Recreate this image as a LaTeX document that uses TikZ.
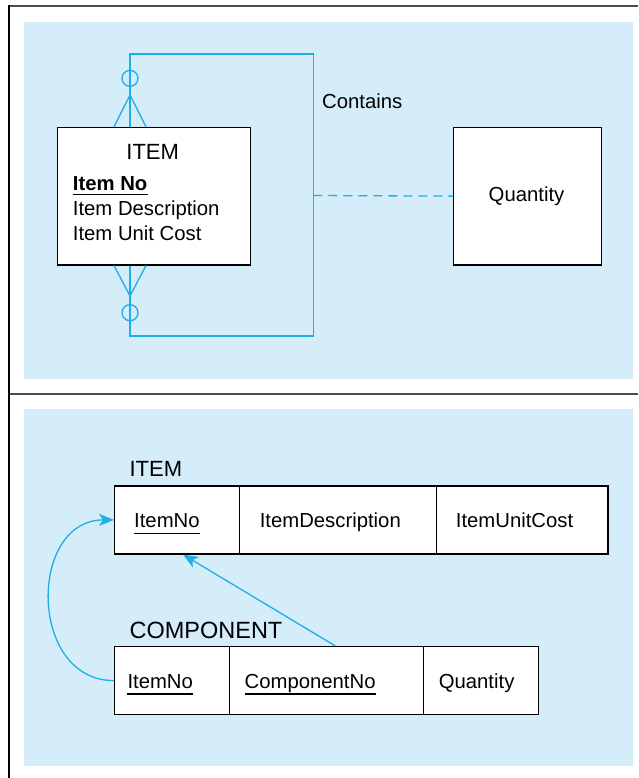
\documentclass[tikz,border=0pt]{standalone}
\usepackage{fontspec}
\setmainfont{Liberation Sans}
\usetikzlibrary{arrows.meta,calc}
\definecolor{panelblue}{HTML}{D5ECF9}
\definecolor{linkcyan}{HTML}{1CAFE9}
\definecolor{framegray}{HTML}{4D4D4D}
\begin{document}
\begin{tikzpicture}[x=1pt,y=-1pt,
  entity/.style={draw=black, line width=1.2pt, fill=white, inner sep=0pt, anchor=north west},
  cell/.style={draw=black, line width=1.2pt, fill=white, inner sep=0pt, anchor=north west, minimum height=68pt},
  txt/.style={inner sep=0pt, anchor=base west, font=\fontsize{20.3}{24}\selectfont},
  ctxt/.style={inner sep=0pt, anchor=base, font=\fontsize{20.3}{24}\selectfont},
  link/.style={draw=linkcyan, line width=1.3pt},
  tipped/.style={-{Stealth[length=15pt,width=12pt,inset=4pt]}},
  uline/.style={draw=black, line width=1.1pt},
  framel/.style={line width=2pt}
]
\useasboundingbox (0,0) rectangle (638,778);
% panels
\fill[panelblue] (24,22) rectangle (632.7,378.7);
\fill[panelblue] (24,409.3) rectangle (632.7,765.7);
% frame
\draw[framel, framegray] (9,6.5) -- (638,6.5);
\draw[framel, framegray] (9,393.5) -- (638,393.5);
\draw[framel, black] (9,5.5) -- (9,778);

% ---------- top panel ----------
\node[entity, minimum width=193pt, minimum height=137.5pt] (itement) at (57,126.8) {};
\node[entity, minimum width=148pt, minimum height=137.5pt] (qtyent) at (453,126.8) {};

\node[ctxt, font=\fontsize{22}{26}\selectfont] (itemtitle) at (152.7,160) {ITEM};
\node[txt, font=\fontsize{20.3}{24}\selectfont\bfseries] (ino) at (72.7,190) {Item No};
\draw[uline] ([yshift=-4.5pt]ino.base west) -- ([yshift=-4.5pt]ino.base east);
\node[txt] (idesc) at (72.7,215) {Item Description};
\node[txt] (icost) at (72.7,240.7) {Item Unit Cost};

\node[txt] (contains) at (322,108.3) {Contains};
\node[ctxt] (qtytext) at (526.5,201.7) {Quantity};

% recursive relationship loop
\coordinate (ltop) at ($(itement.north west)+(73,0)$);
\coordinate (lbot) at ($(itement.south west)+(73,0)$);
\coordinate (ctl) at (130,54);
\coordinate (ctr) at (313.3,54);
\coordinate (cbr) at (313.3,336);
\coordinate (cbl) at (130,336);
\coordinate (cmid) at (313.3,195.5);
\draw[link] (ltop) -- (ctl) -- (ctr) -- (cbr) -- (cbl) -- (lbot);
% crow's feet
\coordinate (tapex) at (130,95);
\coordinate (bapex) at (130,296);
\draw[link] ($(ltop)+(-16,0)$) -- (tapex) -- ($(ltop)+(16,0)$);
\draw[link] ($(lbot)+(-16,0)$) -- (bapex) -- ($(lbot)+(16,0)$);
% optional circles
\draw[link] (130,78.3) circle[radius=8pt];
\draw[link] (130,312.7) circle[radius=8pt];
% dashed attribute link
\draw[link, dash pattern=on 9pt off 6pt] (cmid) -- (qtyent.west);

% ---------- bottom panel ----------
\node[txt, anchor=base west, font=\fontsize{22}{26}\selectfont] (itemlabel) at (129.4,476.7) {ITEM};
\node[cell, minimum width=125.2pt] (ic1) at (114,485.3) {};
\node[cell, minimum width=196.5pt] (ic2) at (239.2,485.3) {};
\node[cell, minimum width=171.7pt] (ic3) at (435.7,485.3) {};
\node[txt] (t1) at (134,527.3) {ItemNo};
\draw[uline] ([yshift=-6pt]t1.base west) -- ([yshift=-6pt]t1.base east);
\node[txt] (t2) at (259.6,527.3) {ItemDescription};
\node[txt] (t3) at (455.7,527.3) {ItemUnitCost};

\node[txt, font=\fontsize{23.5}{28}\selectfont] (complabel) at (129.4,638.3) {COMPONENT};
\node[cell, minimum width=114.6pt] (cc1) at (114,646) {};
\node[cell, minimum width=194.1pt] (cc2) at (228.6,646) {};
\node[cell, minimum width=115.5pt] (cc3) at (422.7,646) {};
\node[txt] (u1) at (127.3,688.3) {ItemNo};
\draw[uline] ([yshift=-5.7pt]u1.base west) -- ([yshift=-5.7pt]u1.base east);
\node[txt] (u2) at (244.5,688.3) {ComponentNo};
\draw[uline] ([yshift=-5.7pt]u2.base west) -- ([yshift=-5.7pt]u2.base east);
\node[txt] (u3) at (438.6,688.3) {Quantity};

% foreign key arrows
\draw[link, tipped] (cc1.west) .. controls +(-86,0) and +(-86,0) .. (ic1.west);
\draw[link, tipped] ($(cc2.north west)+(106.8,0)$) -- ($(ic1.south west)+(69,0)$);
\end{tikzpicture}
\end{document}
